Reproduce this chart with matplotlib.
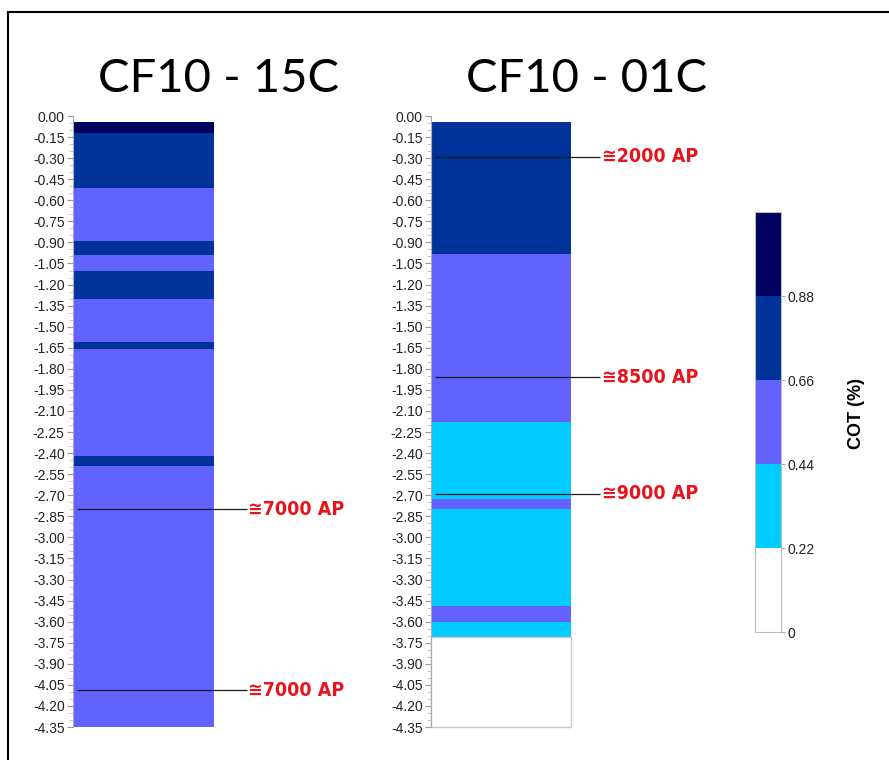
import numpy as np
import matplotlib
matplotlib.use("Agg")
import matplotlib.pyplot as plt
from matplotlib.colors import ListedColormap, BoundaryNorm
from matplotlib.cm import ScalarMappable
from matplotlib.lines import Line2D

plt.rcParams["font.family"] = ["Liberation Sans", "DejaVu Sans"]

# COT classes (%) and their colours
COT_BOUNDS = [0, 0.22, 0.44, 0.66, 0.88, 1.10]
COT_COLORS = ["#ffffff", "#00ccff", "#6262ff", "#003399", "#00005e"]
CBAR_TICKS = [0, 0.22, 0.44, 0.66, 0.88]
CBAR_LABELS = ["0", "0.22", "0.44", "0.66", "0.88"]

# core CF10 - 15C: layer top / bottom depth (m) and COT class value
top_15c = [0.04, 0.12, 0.51, 0.89, 0.99, 1.10, 1.30, 1.61, 1.66, 2.42, 2.49]
bot_15c = [0.12, 0.51, 0.89, 0.99, 1.10, 1.30, 1.61, 1.66, 2.42, 2.49, 4.35]
cot_15c = [0.95, 0.77, 0.55, 0.77, 0.55, 0.77, 0.55, 0.77, 0.55, 0.77, 0.55]
ap_depth_15c = [2.80, 4.09]
ap_text_15c = ["\u22457000 AP", "\u22457000 AP"]

# core CF10 - 01C
top_01c = [0.045, 0.98, 2.18, 2.73, 2.80, 3.49, 3.60, 3.71]
bot_01c = [0.98, 2.18, 2.73, 2.80, 3.49, 3.60, 3.71, 4.35]
cot_01c = [0.77, 0.55, 0.33, 0.55, 0.33, 0.55, 0.33, 0.11]
ap_depth_01c = [0.29, 1.86, 2.69]
ap_text_01c = ["\u22452000 AP", "\u22458500 AP", "\u22459000 AP"]

depth_ticks = np.round(np.arange(0, 4.36, 0.15), 2)

cmap = ListedColormap(COT_COLORS)
norm = BoundaryNorm(COT_BOUNDS, cmap.N)

W, H = 889, 760
fig = plt.figure(figsize=(W / 100, H / 100), dpi=100)


def px_axes(x0, y0, x1, y1):
    return fig.add_axes([x0 / W, 1 - y1 / H, (x1 - x0) / W, (y1 - y0) / H])


def draw_core(ax, tops, bots, cots, ap_depth, ap_text, line_end):
    tops, bots = np.array(tops), np.array(bots)
    for t, b, c in zip(tops, bots, cots):
        edge = "#c8c8c8" if c < 0.22 else "none"
        ax.bar(0, b - t, bottom=-b, width=0.995, align="edge",
               color=cmap(norm(c)), edgecolor=edge, linewidth=1.0,
               clip_on=False)
    ax.set_xlim(0, 1)
    ax.set_ylim(-4.35, 0)
    ax.set_yticks(-depth_ticks)
    ax.set_yticklabels([f"{-d:.2f}" if d > 0 else "0.00" for d in depth_ticks])
    ax.set_yticks(-np.round(np.arange(0, 4.36, 0.05), 2), minor=True)
    ax.tick_params(axis="y", which="major", length=4, width=0.8, color="#999999",
                   pad=2, labelsize=10, labelcolor="#222222")
    ax.tick_params(axis="y", which="minor", length=3, width=0.6, color="#bbbbbb")
    ax.set_xticks([])
    for s in ["top", "right", "bottom"]:
        ax.spines[s].set_visible(False)
    ax.spines["left"].set_color("#aaaaaa")
    ax.spines["left"].set_linewidth(0.8)
    for d, t in zip(ap_depth, ap_text):
        ax.hlines(-d, 0.03, line_end, colors="#1a1a1a", linewidth=0.9,
                  clip_on=False)
        ax.text(line_end + 0.01, -d, t, color="#e8141c", fontsize=14,
                fontweight="bold", fontstretch="condensed",
                family=["Liberation Sans Narrow", "DejaVu Sans"],
                va="center", ha="left", clip_on=False)


ax1 = px_axes(73, 116, 215, 727)
draw_core(ax1, top_15c, bot_15c, cot_15c, ap_depth_15c, ap_text_15c, 1.225)
ax2 = px_axes(431, 116, 572, 727)
draw_core(ax2, top_01c, bot_01c, cot_01c, ap_depth_01c, ap_text_01c, 1.20)

title_font = ["Lato", "DejaVu Sans"]
fig.text(219 / W, 1 - 79 / H, "CF10 - 15C", fontsize=34, ha="center",
         va="center", family=title_font)
fig.text(586 / W, 1 - 79 / H, "CF10 - 01C", fontsize=34, ha="center",
         va="center", family=title_font)

cax = px_axes(755, 212, 781, 632)
cb = fig.colorbar(ScalarMappable(norm=norm, cmap=cmap), cax=cax,
                  ticks=CBAR_TICKS, spacing="proportional")
cb.set_ticklabels(CBAR_LABELS)
cax.minorticks_off()
cb.outline.set_edgecolor("#bbbbbb")
cb.outline.set_linewidth(0.8)
cax.tick_params(length=3, width=0.6, color="#999999", labelsize=10,
                labelcolor="#222222", pad=2)
cax.text(3.9, 0.52, "COT (%)", rotation=90, ha="center", va="center",
         fontsize=13, fontweight="bold", transform=cax.transAxes)

# frame (top and left edges only, as in the cropped source)
fig.add_artist(Line2D([8 / W, 8 / W], [0, 1 - 12 / H], color="black",
                      linewidth=1.5, transform=fig.transFigure))
fig.add_artist(Line2D([8 / W, 1], [1 - 12 / H, 1 - 12 / H], color="black",
                      linewidth=1.5, transform=fig.transFigure))

fig.savefig("out.png", dpi=100)
